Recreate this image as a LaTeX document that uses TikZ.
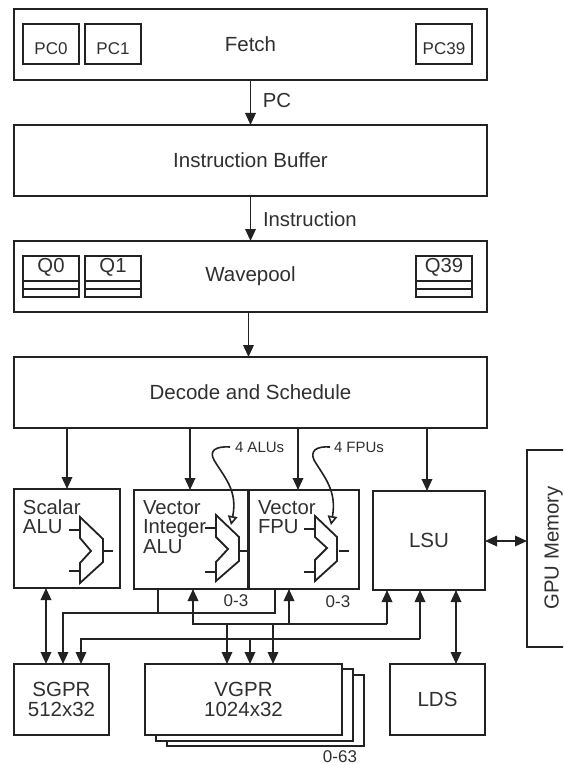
\documentclass[tikz,border=0pt]{standalone}
\usepackage{fontspec}
\setmainfont{Liberation Sans}
\usetikzlibrary{arrows.meta,calc}
\definecolor{ink}{HTML}{222222}
\definecolor{txt}{HTML}{303030}
\newcommand\fs[1]{\fontsize{#1pt}{19.5pt}\selectfont}
% name, x0, y0, x1, y1, options, text
\newcommand\bxn[7]{%
  \pgfmathsetmacro\bw{#4-#2}\pgfmathsetmacro\bh{#5-#3}%
  \pgfmathsetmacro\bx{(#4+#2)/2}\pgfmathsetmacro\by{(#5+#3)/2}%
  \node[bx,#6,minimum width=\bw pt,minimum height=\bh pt] (#1) at (\bx,\by) {#7};}
\begin{document}
\begin{tikzpicture}[x=1pt,y=-1pt,
  bx/.style={draw=ink,line width=1.8pt,fill=white,inner sep=0pt,outer sep=0pt,text=txt,font=\fs{20.5},align=center},
  small/.style={font=\fs{17}},
  lbl/.style={inner sep=0pt,outer sep=0pt,text=txt,font=\fs{20.3}},
  note/.style={inner sep=0pt,outer sep=0pt,text=txt,font=\fs{17}},
  ltxt/.style={lbl,align=left,anchor=north west},
  line/.style={draw=ink,line width=1.8pt},
  arr/.style={line,-{Triangle[length=12pt,width=10.5pt]}},
  barr/.style={line,{Triangle[length=12pt,width=10.5pt]}-{Triangle[length=12pt,width=10.5pt]}},
  curl/.style={draw=ink,line width=1.6pt,-{Triangle[open,length=9pt,width=9.5pt,fill=white]}},
  mux/.style={draw=ink,line width=1.8pt,line join=miter},
  stub/.style={draw=ink,line width=1.4pt}]
\useasboundingbox (0,0) rectangle (563,765);
\fill[white] (0,0) rectangle (563,765);
% x positions of connectors
\coordinate (xa) at (67,0);\coordinate (xb) at (190,0);\coordinate (xc) at (298,0);\coordinate (xd) at (427,0);
\coordinate (xe) at (46,0);\coordinate (xf) at (63,0);\coordinate (xg) at (81,0);\coordinate (xh) at (227,0);
\coordinate (xi) at (250,0);\coordinate (xj) at (273,0);\coordinate (xk) at (158,0);\coordinate (xl) at (275,0);
\coordinate (xm) at (193,0);\coordinate (xn) at (289,0);\coordinate (xo) at (387,0);\coordinate (xp) at (420,0);
\coordinate (xq) at (456,0);
% top boxes
\bxn{fetch}{14}{9}{487}{80}{}{Fetch}
\bxn{pc0}{23}{24}{79}{64}{small}{\raisebox{-11pt}[0pt][0pt]{PC0}}
\bxn{pc1}{85}{24}{141}{64}{small}{\raisebox{-11pt}[0pt][0pt]{PC1}}
\bxn{pc39}{416}{24}{472}{64}{small}{\raisebox{-11pt}[0pt][0pt]{PC39}}
\bxn{ibuf}{14}{125}{487}{196}{}{Instruction Buffer}
\bxn{wave}{14}{241}{487}{312}{}{Wavepool}
\bxn{q0}{23}{256}{79}{297}{}{}
\bxn{q1}{85}{256}{141}{297}{}{}
\bxn{q39}{416}{256}{472}{297}{}{}
\draw[line] (q0.west |- 0,281) -- (q0.east |- 0,281) (q0.west |- 0,289) -- (q0.east |- 0,289);
\draw[line] (q1.west |- 0,281) -- (q1.east |- 0,281) (q1.west |- 0,289) -- (q1.east |- 0,289);
\draw[line] (q39.west |- 0,281) -- (q39.east |- 0,281) (q39.west |- 0,289) -- (q39.east |- 0,289);
\node[lbl] (q0t) at (51,267) {Q0};
\node[lbl] (q1t) at (113,267) {Q1};
\node[lbl] (q39t) at (444,267) {Q39};
\bxn{decode}{14}{357}{487}{428}{}{Decode and Schedule}
% execution units
\bxn{scalar}{14}{489}{120}{588}{}{}
\bxn{vint}{134}{490}{248}{589}{}{}
\bxn{vfpu}{249}{490}{359}{589}{}{}
\bxn{lsu}{373}{491}{485}{590}{}{LSU}
\node[ltxt] (scalart) at (23,499.5) {Scalar\\ALU};
\node[ltxt] (vintt) at (143,500.5) {Vector\\Integer\\ALU};
\node[ltxt] (vfput) at (258,500.5) {Vector\\FPU};
% GPU memory, cut off by the page edge
\begin{scope}
\clip (0,0) rectangle (563,765);
\bxn{gpu}{527}{450}{582}{647}{}{}
\end{scope}
\node[lbl,rotate=90,anchor=base] (gput) at (558.5,548) {GPU Memory};
% register files
\bxn{vgprc}{167}{675}{364}{746}{}{}
\bxn{vgprb}{156}{669}{353}{741}{}{}
\bxn{vgpr}{145}{664}{342}{735}{}{VGPR\\1024x32}
\bxn{sgpr}{14}{664}{109}{735}{}{SGPR\\512x32}
\bxn{lds}{390}{664}{485}{735}{}{LDS}
% muxes
\draw[mux] (80,517) -- (103,539) -- (103,562) -- (80,583) -- (80,563) -- (91,551) -- (80,538) -- cycle;
\draw[stub] (69,530) -- (80,530) (69,571) -- (80,571) (103,551) -- (113,551);
\draw[mux] (216,515) -- (239,537) -- (239,561) -- (216,581) -- (216,562) -- (228,549) -- (216,537) -- cycle;
\draw[stub] (205,528) -- (216,528) (205,572) -- (216,572) (239,551) -- (248,551);
\draw[mux] (315,516) -- (337,537) -- (337,561) -- (315,581) -- (315,560) -- (327,548) -- (315,537) -- cycle;
\draw[stub] (304,529) -- (315,529) (304,572) -- (315,572) (339,551) -- (349,551);
% labels
\node[lbl] (pclbl) at (277,101) {PC};
\node[lbl,anchor=west] (inlbl) at (263,219) {Instruction};
\node[note,font=\fs{15},anchor=west] (alus) at (235,447) {4 ALUs};
\node[note,font=\fs{15},anchor=west] (fpus) at (334,447) {4 FPUs};
\node[note] (r1) at (236,601) {0-3};
\node[note] (r2) at (338,602) {0-3};
\node[note,anchor=base] (r3) at (340,762.5) {0-63};
% curved arrows
\draw[curl] ([xshift=-5pt]alus.west) .. controls (215,446) and (209,451) .. (214,460) .. controls (224,477) and (238,490) .. (231,525);
\draw[curl] ([xshift=-4pt]fpus.west) .. controls (316,446) and (310,451) .. (314,460) .. controls (324,477) and (337,490) .. (331,525);
% pipeline arrows
\draw[arr] (fetch.south) -- (ibuf.north);
\draw[arr] (ibuf.south) -- (wave.north);
\draw[arr] ([xshift=-2pt]wave.south) -- ([xshift=-2pt]decode.north);
\draw[arr] (decode.south -| xa) -- (scalar.north -| xa);
\draw[arr] (decode.south -| xb) -- (vint.north -| xb);
\draw[arr] (decode.south -| xc) -- (vfpu.north -| xc);
\draw[arr] (decode.south -| xd) -- (lsu.north -| xd);
% bidirectional links
\draw[barr] (scalar.south -| xe) -- (sgpr.north -| xe);
\draw[barr] (lsu.south -| xq) -- (lds.north -| xq);
\coordinate (gy) at (0,541);
\draw[barr] (lsu.east |- gy) -- (gpu.west |- gy);
% result bus to SGPR
\coordinate (ya) at (0,613);
\draw[arr] (vint.south -| xk) -- (xk |- ya) -- (xf |- ya) -- (sgpr.north -| xf);
\draw[line] (vfpu.south -| xl) -- (xl |- ya) -- (xk |- ya);
% VGPR bus
\coordinate (yb) at (0,624);
\draw[arr] (xo |- yb) -- (lsu.south -| xo);
\draw[arr] (xo |- yb) -- (xm |- yb) -- (vint.south -| xm);
\draw[arr] (xn |- yb) -- (vfpu.south -| xn);
\draw[arr] (xh |- yb) -- (vgpr.north -| xh);
\draw[arr] (xj |- yb) -- (vgpr.north -| xj);
% LSU to SGPR and VGPR
\coordinate (yc) at (0,639);
\draw[arr] (xp |- yc) -- (lsu.south -| xp);
\draw[arr] (xp |- yc) -- (xg |- yc) -- (sgpr.north -| xg);
\draw[arr] (xi |- yc) -- (vgpr.north -| xi);
\end{tikzpicture}
\end{document}
